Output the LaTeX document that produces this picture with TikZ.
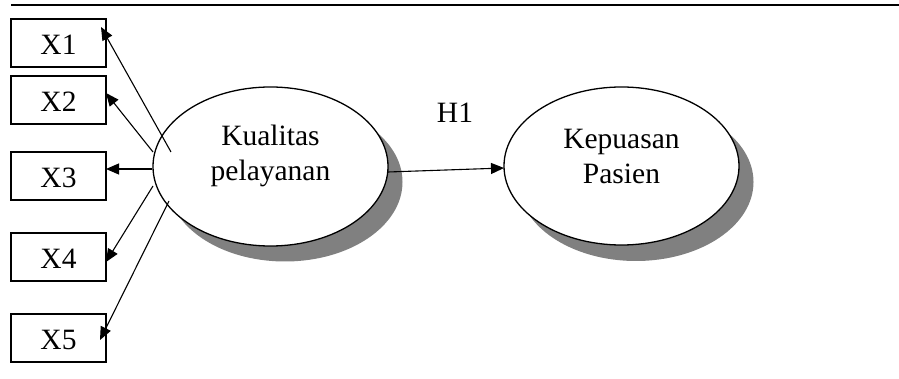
\documentclass[tikz,border=0pt]{standalone}
\usepackage{fontspec}
\setmainfont{Liberation Serif}
\usetikzlibrary{arrows.meta}
\begin{document}
\begin{tikzpicture}[x=1pt,y=-1pt,
  box/.style={draw,line width=1.3pt,inner sep=0pt},
  lbl/.style={font=\fontsize{29.5}{35}\selectfont,align=center,inner sep=0pt},
  arr/.style={line width=1.1pt,-{Triangle[length=13pt,width=11pt]}},
  shad/.style={fill=black!50,draw=none},
  ell/.style={draw,fill=white,line width=1.3pt}]
\useasboundingbox (0,0) rectangle (899,379);
\draw[line width=1.6pt] (11,5) -- (899,5);
% boxes
\foreach \n/\t/\b in {x1/19/67,x2/76/124,x3/152/200,x4/233/281,x5/314/362}{
  \draw[box] (11,\t) rectangle (106,\b);
}
\node[lbl] (t1) at (58.5,45) {X1};
\node[lbl] (t2) at (58.5,102) {X2};
\node[lbl] (t3) at (58.5,178) {X3};
\node[lbl] (t4) at (58.5,259) {X4};
\node[lbl] (t5) at (58.5,340) {X5};
% ellipses with shadows
\fill[shad] (285,182) ellipse [x radius=117.5, y radius=79.5];
\draw[ell] (270.5,166.5) ellipse [x radius=117.5, y radius=79.5];
\fill[shad] (636,182) ellipse [x radius=117.5, y radius=79];
\draw[ell] (621.5,166) ellipse [x radius=117.5, y radius=79];
\node[lbl] (kp) at (270.5,156) {Kualitas\\pelayanan};
\node[lbl] (ps) at (621.5,156) {Kepuasan\\Pasien};
\node[lbl] (h1) at (455,113) {H1};
% connector end points
\coordinate (s1) at (171,152);
\coordinate (s2) at (153,152);
\coordinate (s3) at (152,169);
\coordinate (s4) at (153,186);
\coordinate (s5) at (169,201);
\coordinate (e1) at (101,27);
\coordinate (e2) at (106,93);
\coordinate (e3) at (106,169);
\coordinate (e4) at (106,262);
\coordinate (e5) at (100,340);
\coordinate (hs) at (388,172);
\coordinate (he) at (504,168);
\draw[arr] (s1) -- (e1);
\draw[arr] (s2) -- (e2);
\draw[arr] (s3) -- (e3);
\draw[arr] (s4) -- (e4);
\draw[arr] (s5) -- (e5);
\draw[arr] (hs) -- (he);
\end{tikzpicture}
\end{document}
